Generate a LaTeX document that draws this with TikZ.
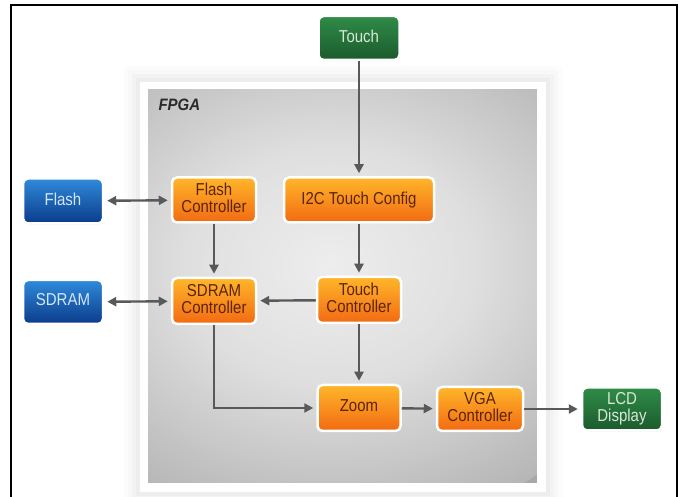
\documentclass[tikz,border=0pt]{standalone}
\usepackage{fontspec}
\setmainfont{Liberation Sans}
\usetikzlibrary{arrows.meta,shadows,fadings}

\definecolor{arrowgray}{HTML}{595959}
\definecolor{ortop}{HTML}{FFB62A}
\definecolor{orbot}{HTML}{F26A12}
\definecolor{ortext}{HTML}{5C2408}
\definecolor{bltop}{HTML}{2F8ADB}
\definecolor{blbot}{HTML}{0B3B8A}
\definecolor{bltext}{HTML}{D2E6F8}
\definecolor{grtop}{HTML}{2F8C47}
\definecolor{grbot}{HTML}{1B5A2D}
\definecolor{grtext}{HTML}{D8E8D8}
\definecolor{fpgaedge}{HTML}{A8A8A8}
\definecolor{fpgatext}{HTML}{2A2A2A}

% radial fading: opaque centre, fully clear well inside the rim once fitted to a path
\pgfdeclareradialshading{softshade}{\pgfpointorigin}{color(0bp)=(white); color(8bp)=(white!80!black); color(22bp)=(black); color(40bp)=(black)}
\pgfdeclarefading{softspot}{\pgfuseshading{softshade}}

% block labels are set slightly tall
\newcommand\blocklabel[1]{\scalebox{1}[1.15]{\begin{tabular}{@{}c@{}}#1\end{tabular}}}

\begin{document}
\begin{tikzpicture}[x=1pt,y=-1pt,
  box/.style={rounded corners=5pt, draw=white, line width=2.5pt, align=center,
    inner sep=0pt, font=\fontsize{15}{13}\selectfont,
    drop shadow={opacity=0.18, shadow xshift=0.8pt, shadow yshift=-1.2pt}},
  orangebox/.style={box, top color=ortop, bottom color=orbot, text=ortext},
  bluebox/.style={box, top color=bltop, bottom color=blbot, text=bltext},
  greenbox/.style={box, top color=grtop, bottom color=grbot, text=grtext},
  link/.style={draw=arrowgray, line width=2.4pt,
    -{Triangle[length=9pt,width=9pt]}, shorten >=3pt},
  both/.style={link, {Triangle[length=9pt,width=9pt]}-{Triangle[length=9pt,width=9pt]},
    shorten <=3pt},
]
\useasboundingbox (0,0) rectangle (681,497);
\clip (0,0) rectangle (681,497);
\fill[white] (0,0) rectangle (681,497);

% faint halo around the FPGA panel
\foreach \d/\o in {16/0.010,12/0.014,8/0.018,4/0.022}
  \fill[black, opacity=\o] (140-\d,82-\d) rectangle (546+\d,492+\d);
% white rim and gray panel
\fill[white] (140,82) rectangle (546,492);
\fill[fpgaedge] (148,89) rectangle (537,483);
\begin{scope}
  \clip (148,89) rectangle (537,483);
  \fill[white, opacity=0.80, path fading=softspot, rotate around={28:(330,250)}]
    (330,250) ellipse (420 and 300);
\end{scope}

% outer frame
\draw[black, line width=2.2pt] (11,520) -- (11,5) -- (677,5) -- (677,520);

\node[font=\fontsize{15}{15}\selectfont\bfseries\itshape, text=fpgatext, anchor=west]
  (fpga) at (155,105) {\scalebox{1}[1.1]{FPGA}};

% blocks
\node[greenbox, minimum width=81pt, minimum height=44pt] (touch) at (359,38) {\blocklabel{Touch}};
\node[bluebox, minimum width=80pt, minimum height=45pt] (flash) at (63,201) {\blocklabel{Flash}};
\node[orangebox, minimum width=84pt, minimum height=45pt] (fctrl) at (214,200) {\blocklabel{Flash\\Controller}};
\node[orangebox, minimum width=150pt, minimum height=45pt] (i2c) at (359,200) {\blocklabel{I2C Touch Config}};
\node[bluebox, minimum width=80pt, minimum height=44pt] (sdram) at (63,302) {\blocklabel{SDRAM}};
\node[orangebox, minimum width=84pt, minimum height=46pt] (sctrl) at (214,301) {\blocklabel{SDRAM\\Controller}};
\node[orangebox, minimum width=84pt, minimum height=46pt] (tctrl) at (359,300) {\blocklabel{Touch\\Controller}};
\node[orangebox, minimum width=83pt, minimum height=46pt] (zoom) at (359,408) {\blocklabel{Zoom}};
\node[orangebox, minimum width=86pt, minimum height=44pt] (vga) at (480,409) {\blocklabel{VGA\\Controller}};
\node[greenbox, minimum width=80pt, minimum height=43pt] (lcd) at (622,409) {\blocklabel{LCD\\Display}};

% connections
\draw[link] (touch) -- (i2c);
\draw[link] (i2c) -- (tctrl);
\draw[link] (fctrl) -- (sctrl);
\draw[link] (tctrl) -- (sctrl);
\draw[link] (tctrl) -- (zoom);
\draw[link] (sctrl.south) |- (zoom.west);
\draw[link] (zoom) -- (vga);
\draw[link] (vga) -- (lcd);
\draw[both] (flash) -- (fctrl);
\draw[both] (sdram) -- (sctrl);
\end{tikzpicture}
\end{document}
